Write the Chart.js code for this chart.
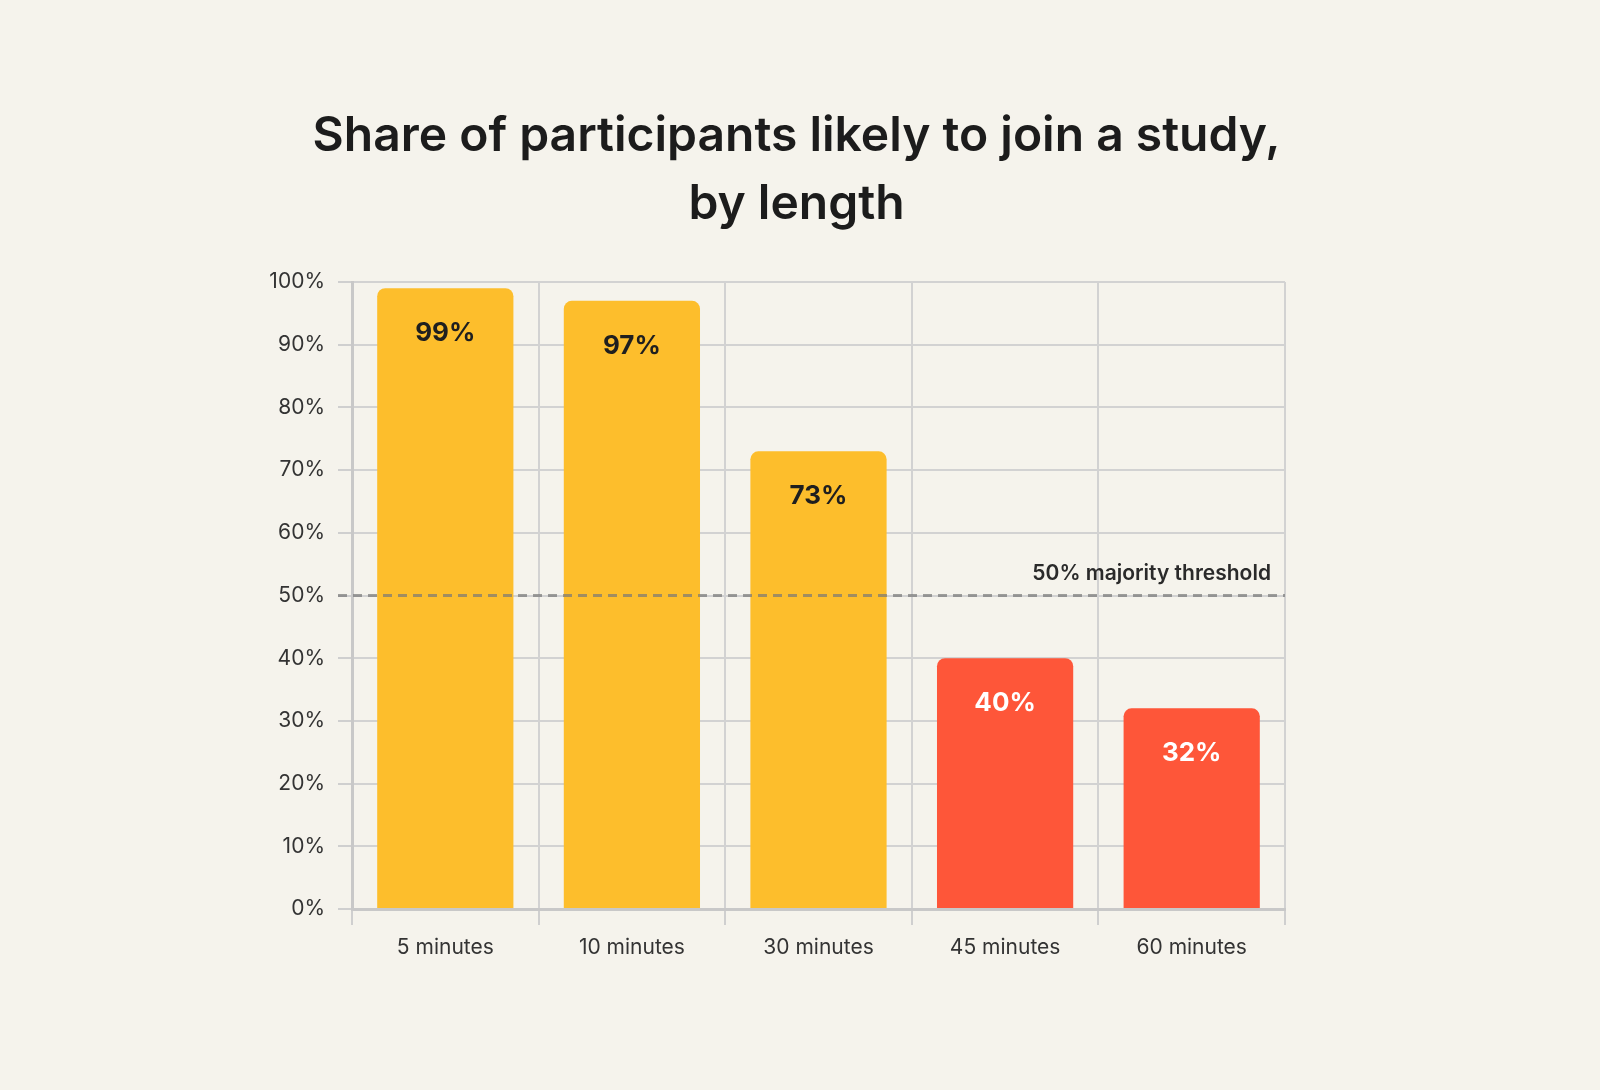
<!DOCTYPE html>
<html><head><meta charset="utf-8">
<script src="https://cdn.jsdelivr.net/npm/chart.js@4"></script>
<style>html,body{margin:0;background:#f5f3ec;}#w{width:1600px;height:1090px;}</style>
</head><body><div id="w"><canvas id="c"></canvas></div>
<script>
const categories = ["5 minutes","10 minutes","30 minutes","45 minutes","60 minutes"];
const values = [99, 97, 73, 40, 32];
const yTicks = [0,10,20,30,40,50,60,70,80,90,100];
const threshold = 50;
const titleLines = ["Share of participants likely to join a study,","by length"];
const thresholdLabel = "50% majority threshold";
const FONT = "Inter, Lato, 'Noto Sans', sans-serif";
const colors = values.map(v => v >= threshold ? "#fdbe2c" : "#fe5639");
const labelColors = values.map(v => v >= threshold ? "#1f1f1f" : "#ffffff");

const overlay = {
  id: "overlay",
  afterDatasetsDraw(chart) {
    const {ctx, chartArea, scales} = chart;
    ctx.save();
    // title
    ctx.fillStyle = "#1c1c1c";
    ctx.font = "600 48px " + FONT;
    ctx.textAlign = "center"; ctx.textBaseline = "middle";
    const cx = (chartArea.left + chartArea.right) / 2 - 38;
    ctx.fillText(titleLines[0], cx + 16, 137);
    ctx.fillText(titleLines[1], cx + 16, 205);
    // threshold line
    const y = scales.y.getPixelForValue(threshold);
    ctx.strokeStyle = "rgba(120,120,120,0.7)"; ctx.lineWidth = 3; ctx.setLineDash([9,6]);
    ctx.beginPath(); ctx.moveTo(chartArea.left - 14, y); ctx.lineTo(chartArea.right, y); ctx.stroke();
    ctx.setLineDash([]);
    ctx.fillStyle = "#2a2a2a"; ctx.font = "600 21px " + FONT;
    ctx.textAlign = "right"; ctx.textBaseline = "alphabetic";
    ctx.fillText(thresholdLabel, chartArea.right - 14, y - 16);
    // value labels
    const meta = chart.getDatasetMeta(0);
    ctx.font = "700 26px " + FONT; ctx.textAlign = "center"; ctx.textBaseline = "middle";
    meta.data.forEach((bar, i) => {
      ctx.fillStyle = labelColors[i];
      ctx.fillText(values[i] + "%", bar.x, bar.y + 45);
    });
    ctx.restore();
  }
};

new Chart(document.getElementById("c"), {
  type: "bar",
  data: { labels: categories, datasets: [{ data: values, backgroundColor: colors,
    borderRadius: {topLeft: 8, topRight: 8}, borderSkipped: "bottom",
    barPercentage: 0.73, categoryPercentage: 1 }] },
  options: {
    responsive: true, maintainAspectRatio: false, animation: false,
    devicePixelRatio: 1,
    layout: { padding: { left: 250, right: 315, top: 282, bottom: 110 } },
    plugins: { legend: {display: false}, tooltip: {enabled: false} },
    scales: {
      x: {
        grid: { color: "#d2d2d2", lineWidth: 2, tickLength: 16, offset: true, tickColor: "#cfcfcf" },
        border: { color: "#c8c8c8", width: 3 },
        ticks: { color: "#333", font: { family: FONT, size: 21 }, padding: 10 },
        afterFit(s) { s.height = 71; }
      },
      y: {
        min: 0, max: 100,
        afterBuildTicks(s) { s.ticks = yTicks.map(v => ({value: v})); },
        grid: { color: "#d2d2d2", lineWidth: 2, tickLength: 14, tickColor: "#cfcfcf" },
        border: { color: "#c8c8c8", width: 3 },
        ticks: { color: "#333", font: { family: FONT, size: 21 }, padding: 13, callback: v => v + "%" },
        afterFit(s) { s.width = 102; }
      }
    }
  },
  plugins: [overlay]
});
</script></body></html>
